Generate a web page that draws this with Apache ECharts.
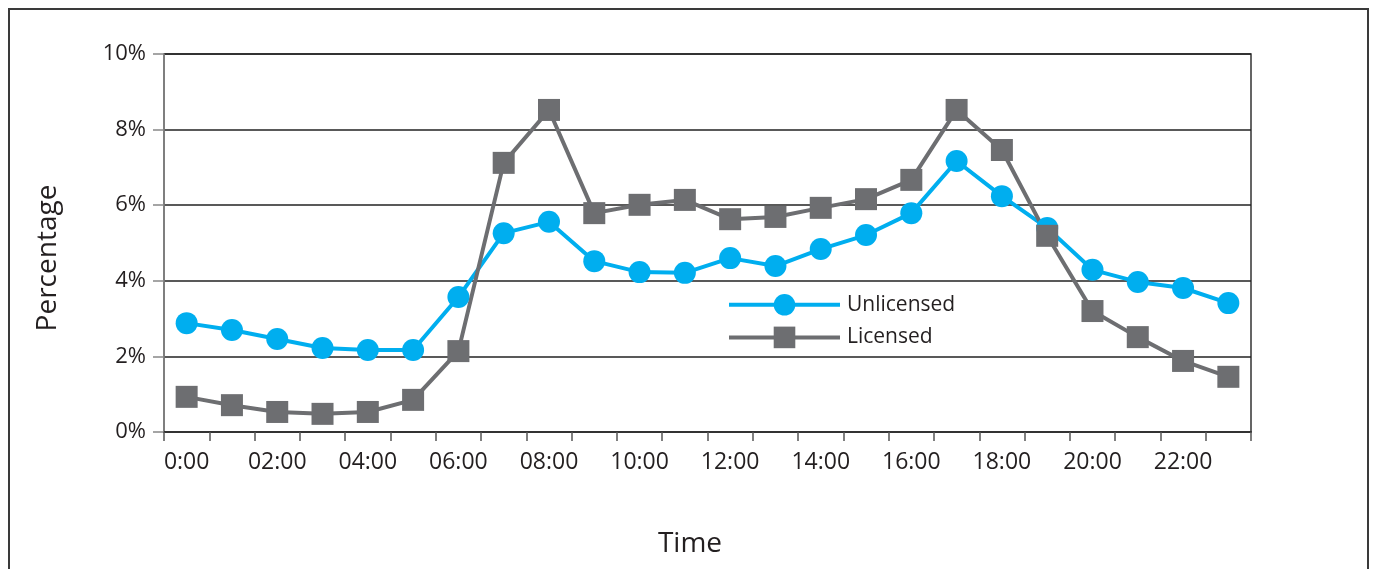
<!DOCTYPE html>
<html><head><meta charset="utf-8">
<script src="https://cdn.jsdelivr.net/npm/echarts@6/dist/echarts.min.js"></script>
<style>html,body{margin:0;padding:0;background:#fff}#c{width:1375px;height:569px}</style>
</head><body><div id="c"></div>
<script>
const categories = ["0:00","01:00","02:00","03:00","04:00","05:00","06:00","07:00","08:00","09:00","10:00","11:00","12:00","13:00","14:00","15:00","16:00","17:00","18:00","19:00","20:00","21:00","22:00","23:00"];
const unlicensed = [2.88,2.70,2.46,2.22,2.17,2.17,3.57,5.26,5.56,4.52,4.23,4.21,4.60,4.39,4.84,5.21,5.79,7.17,6.24,5.40,4.29,3.97,3.81,3.41];
const licensed = [0.93,0.71,0.53,0.48,0.53,0.85,2.14,7.12,8.52,5.79,6.01,6.14,5.63,5.69,5.93,6.16,6.67,8.52,7.46,5.19,3.20,2.51,1.88,1.46];
const yTicks = [0,2,4,6,8,10];
const seriesNames = ["Unlicensed","Licensed"];
const xTitle = "Time";
const yTitle = "Percentage";

const FONT = "'Open Sans', 'Noto Sans', sans-serif";
const chart = echarts.init(document.getElementById('c'), null, {renderer:'canvas'});
chart.setOption({
  animation:false,
  backgroundColor:'#fff',
  textStyle:{fontFamily:FONT},
  grid:{left:164,right:124,top:54,bottom:137,show:true,borderColor:'#333',borderWidth:1.5},
  graphic:[
    {type:'rect',shape:{x:9,y:9,width:1359,height:600},style:{fill:'none',stroke:'#3a3a3a',lineWidth:2},silent:true},
    {type:'text',style:{text:xTitle,font:"28px "+FONT,fill:'#231F20',textAlign:'center',textVerticalAlign:'middle'},x:690,y:544},
    {type:'text',style:{text:yTitle,font:"28px "+FONT,fill:'#231F20',textAlign:'center',textVerticalAlign:'middle'},x:48,y:258,rotation:Math.PI/2}
  ],
  legend:{
    orient:'vertical',left:722,top:289,itemWidth:111,itemHeight:27,itemGap:11,
    data:seriesNames,
    lineStyle:{width:4},
    textStyle:{fontSize:21,color:'#231F20',fontFamily:FONT,padding:[0,0,0,2]}
  },
  xAxis:{
    type:'category',data:categories,boundaryGap:true,
    axisLine:{lineStyle:{color:'#333',width:2}},
    axisTick:{show:true,interval:0,length:9,lineStyle:{color:'#555',width:1.5}},
    axisLabel:{interval:1,margin:19,fontSize:23,color:'#231F20',fontFamily:FONT},
    splitLine:{show:false}
  },
  yAxis:{
    type:'value',min:0,max:10,interval:2,
    axisLine:{show:true,lineStyle:{color:'#888',width:1.5}},
    axisTick:{show:true,length:11,lineStyle:{color:'#888',width:1.5}},
    axisLabel:{margin:18,fontSize:22,color:'#231F20',fontFamily:FONT,formatter:v=>v+'%'},
    splitLine:{show:true,lineStyle:{color:'#222',width:1.5}}
  },
  series:[
    {name:seriesNames[0],type:'line',data:unlicensed,symbol:'circle',symbolSize:22,
     itemStyle:{color:'#00AEEF'},lineStyle:{color:'#00AEEF',width:4}},
    {name:seriesNames[1],type:'line',data:licensed,symbol:'rect',symbolSize:22,
     itemStyle:{color:'#6D6E71'},lineStyle:{color:'#6D6E71',width:4}}
  ]
});
</script></body></html>
